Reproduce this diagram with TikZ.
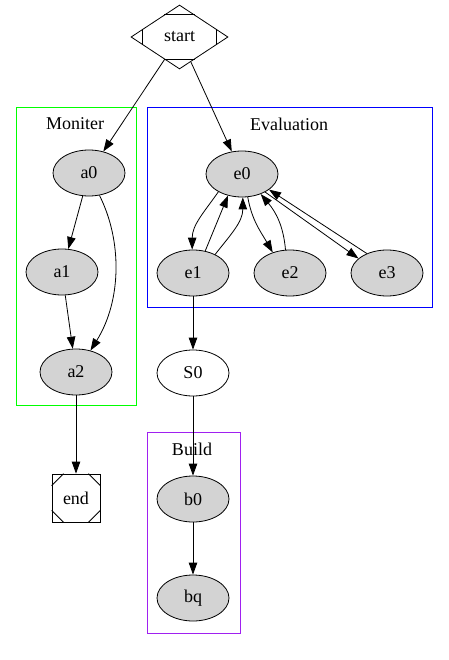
\documentclass[tikz,border=0pt]{standalone}
\usepackage{fontspec}
\setmainfont{Liberation Serif}
\usetikzlibrary{shapes.geometric,arrows.meta,calc}
\definecolor{nodegray}{RGB}{211,211,211}
\definecolor{clgreen}{RGB}{0,255,0}
\definecolor{clblue}{RGB}{0,0,255}
\definecolor{clpurple}{RGB}{160,32,240}
\begin{document}
\begin{tikzpicture}[x=1pt,y=1pt,
  every node/.style={font=\fontsize{18}{20}\selectfont},
  gnode/.style={ellipse,draw,line width=0.8pt,fill=nodegray,minimum width=72pt,minimum height=46pt,inner sep=0pt},
  wnode/.style={gnode,fill=white},
  arr/.style={line width=0.8pt,-{Triangle[length=12pt,width=8.5pt]}},
  clusterbox/.style={line width=0.8pt},
  cutline/.style={line width=0.8pt}
]
\useasboundingbox (0,0) rectangle (448,-660);
\fill[white] (0,0) rectangle (448,-660);

% clusters
\draw[clusterbox,clgreen] (16,-107) rectangle (136,-405);
\node (lmon) at (75,-124) {Moniter};
\draw[clusterbox,clblue] (147,-107) rectangle (432,-307);
\node (leval) at (289,-124) {Evaluation};
\draw[clusterbox,clpurple] (147,-432) rectangle (240,-633);
\node (lbuild) at (192,-449) {Build};

% start (Mdiamond)
\node[diamond,draw,line width=0.8pt,minimum width=97pt,minimum height=64pt,inner sep=0pt] (startn) at (179.5,-37) {start};
\draw[cutline] ($(startn.north)!0.31!(startn.west)$) -- ($(startn.north)!0.31!(startn.east)$);
\draw[cutline] ($(startn.south)!0.31!(startn.west)$) -- ($(startn.south)!0.31!(startn.east)$);
\draw[cutline] ($(startn.west)!0.25!(startn.north)$) -- ($(startn.west)!0.25!(startn.south)$);
\draw[cutline] ($(startn.east)!0.25!(startn.north)$) -- ($(startn.east)!0.25!(startn.south)$);

% Moniter nodes
\node[gnode] (a0) at (89,-173) {a0};
\node[gnode] (a1) at (62,-272) {a1};
\node[gnode] (a2) at (76,-372) {a2};

% end (Msquare)
\node[draw,line width=0.8pt,minimum size=48pt,inner sep=0pt] (endn) at (76,-498) {end};
\draw[cutline] ($(endn.north west)+(0,-12)$) -- ($(endn.north west)+(12,0)$);
\draw[cutline] ($(endn.north east)+(0,-12)$) -- ($(endn.north east)+(-12,0)$);
\draw[cutline] ($(endn.south west)+(0,12)$) -- ($(endn.south west)+(12,0)$);
\draw[cutline] ($(endn.south east)+(0,12)$) -- ($(endn.south east)+(-12,0)$);

% Evaluation nodes
\node[gnode] (e0) at (242,-174) {e0};
\node[gnode] (e1) at (193,-273) {e1};
\node[gnode] (e2) at (290,-273) {e2};
\node[gnode] (e3) at (387,-273) {e3};

\node[wnode] (S0) at (193,-373) {S0};

% Build nodes
\node[gnode] (b0) at (193,-499) {b0};
\node[gnode] (bq) at (193,-598) {bq};

% edges
\draw[arr] (startn) -- (a0);
\draw[arr] (startn) -- (e0);
\draw[arr] (a0) -- (a1);
\draw[arr] (a0.-65) .. controls (122,-240) and (122,-300) .. (a2.56);
\draw[arr] (a1) -- (a2);
\draw[arr] (a2) -- (endn);

\draw[arr] (e0.217) to[out=235,in=90] (e1.92);
\draw[arr] (e1.61) -- (e0.237);
\draw[arr] (e1.40) to[out=52,in=-90] (e0.272);
\draw[arr] (e0.284) to[out=-80,in=120] (e2.130);
\draw[arr] (e2.101) to[out=95,in=-50] (e0.313);
\draw[arr] (e0.322) -- (e3.153);
\draw[arr] (e3.136) -- (e0.330);

\draw[arr] (e1) -- (S0);
\draw[arr] (S0) -- (b0);
\draw[arr] (b0) -- (bq);
\end{tikzpicture}
\end{document}
